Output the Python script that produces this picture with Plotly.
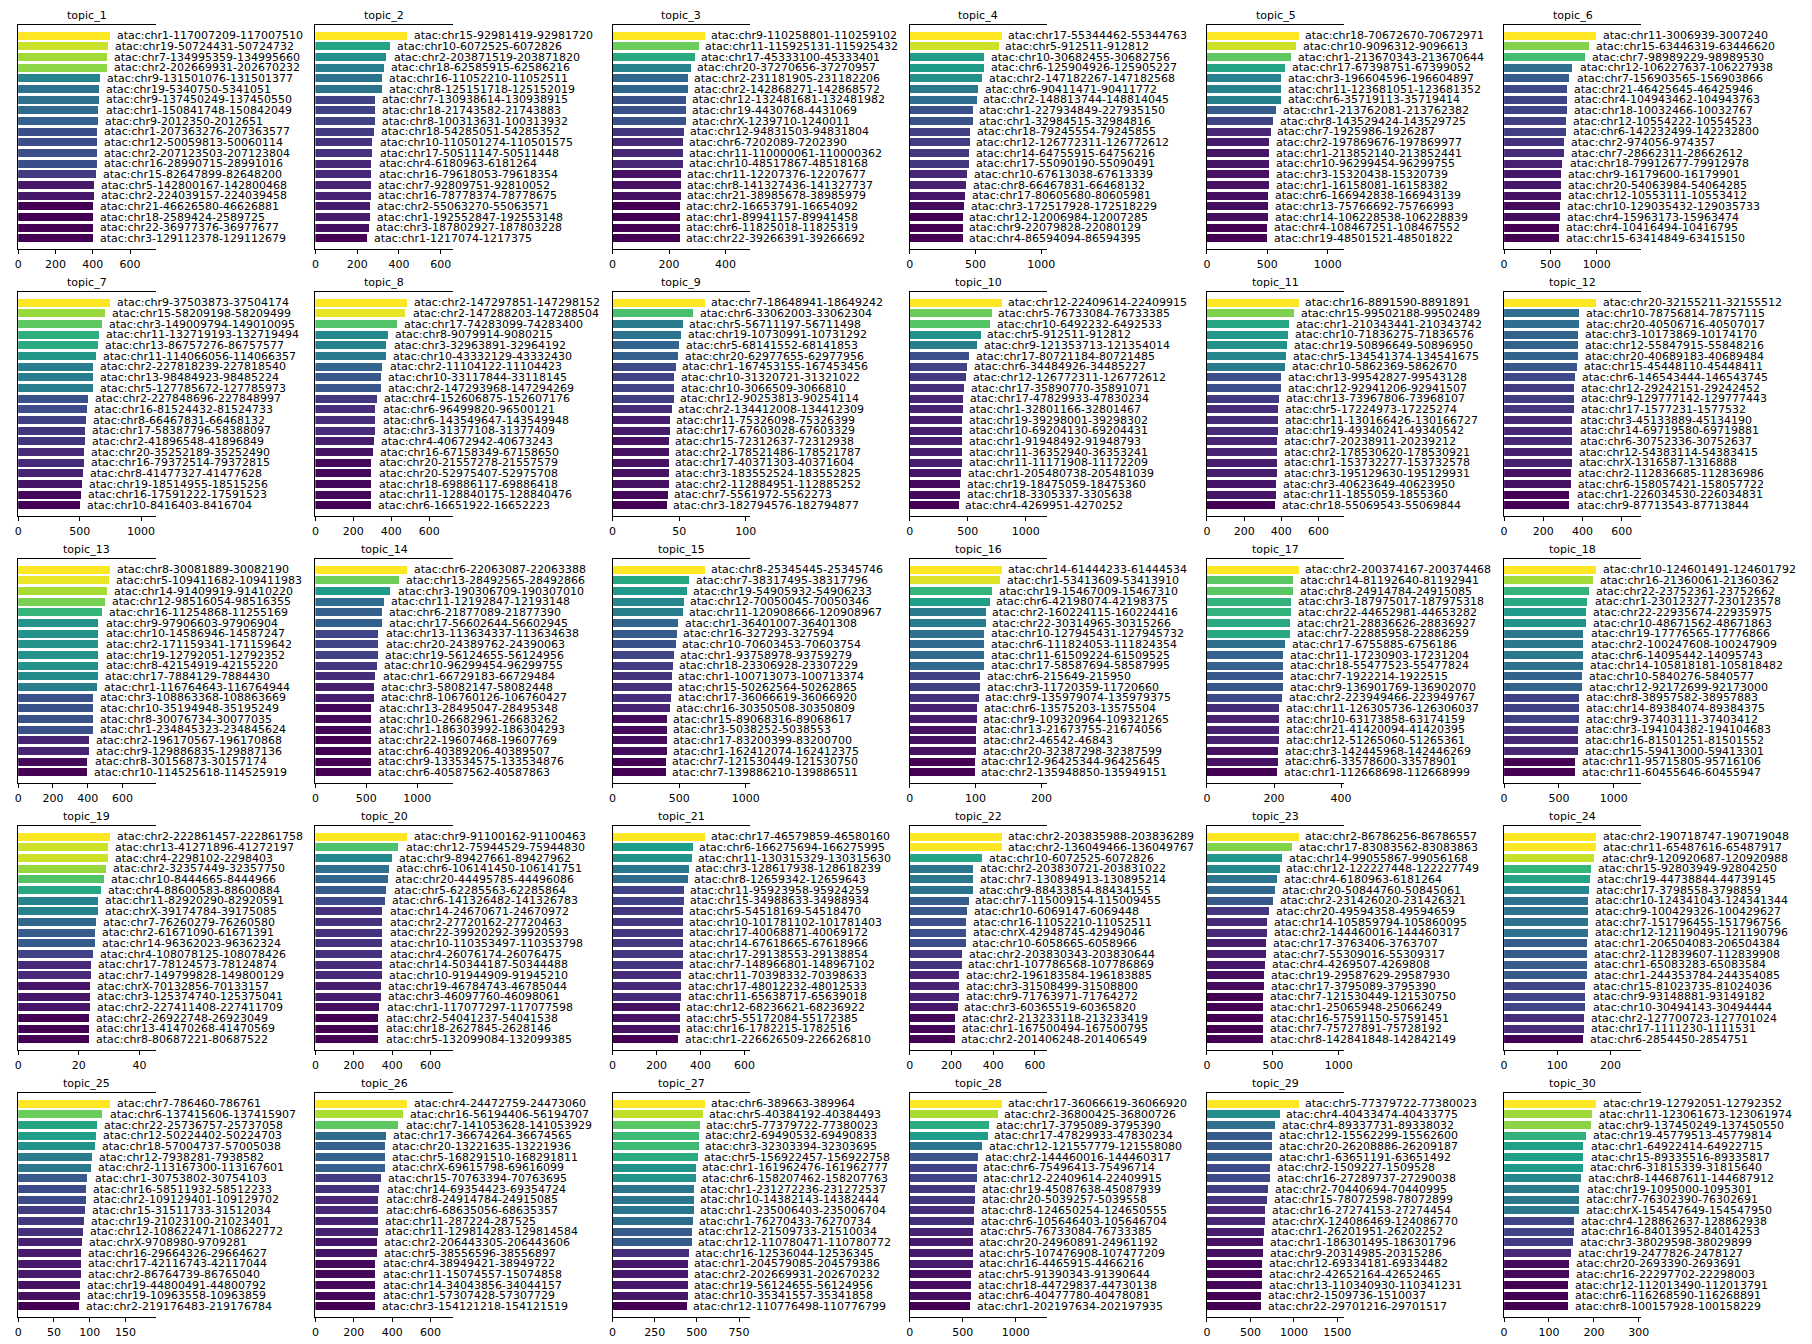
import plotly.graph_objects as go

# ---------------- data ----------------
TITLES = [f"topic_{i}" for i in range(1, 31)]

LABELS = [
 ["atac:chr1-117007209-117007510","atac:chr19-50724431-50724732","atac:chr7-134995359-134995660","atac:chr2-202669931-202670232","atac:chr9-131501076-131501377","atac:chr19-5340750-5341051","atac:chr9-137450249-137450550","atac:chr1-150841748-150842049","atac:chr9-2012350-2012651","atac:chr1-207363276-207363577","atac:chr12-50059813-50060114","atac:chr2-207123503-207123804","atac:chr16-28990715-28991016","atac:chr15-82647899-82648200","atac:chr5-142800167-142800468","atac:chr2-224039157-224039458","atac:chr21-46626580-46626881","atac:chr18-2589424-2589725","atac:chr22-36977376-36977677","atac:chr3-129112378-129112679"],
 ["atac:chr15-92981419-92981720","atac:chr10-6072525-6072826","atac:chr2-203871519-203871820","atac:chr18-62585915-62586216","atac:chr16-11052210-11052511","atac:chr8-125151718-125152019","atac:chr7-130938614-130938915","atac:chr18-21743582-21743883","atac:chr8-100313631-100313932","atac:chr18-54285051-54285352","atac:chr10-110501274-110501575","atac:chr17-50511147-50511448","atac:chr4-6180963-6181264","atac:chr16-79618053-79618354","atac:chr7-92809751-92810052","atac:chr16-78778374-78778675","atac:chr2-55063270-55063571","atac:chr1-192552847-192553148","atac:chr3-187802927-187803228","atac:chr1-1217074-1217375"],
 ["atac:chr9-110258801-110259102","atac:chr11-115925131-115925432","atac:chr17-45333100-45333401","atac:chr20-37270656-37270957","atac:chr2-231181905-231182206","atac:chr2-142868271-142868572","atac:chr12-132481681-132481982","atac:chr19-4430768-4431069","atac:chrX-1239710-1240011","atac:chr12-94831503-94831804","atac:chr6-7202089-7202390","atac:chr11-110000061-110000362","atac:chr10-48517867-48518168","atac:chr11-12207376-12207677","atac:chr8-141327436-141327737","atac:chr21-38985678-38985979","atac:chr2-16653791-16654092","atac:chr1-89941157-89941458","atac:chr6-11825018-11825319","atac:chr22-39266391-39266692"],
 ["atac:chr17-55344462-55344763","atac:chr5-912511-912812","atac:chr10-30682455-30682756","atac:chr6-125904926-125905227","atac:chr2-147182267-147182568","atac:chr6-90411471-90411772","atac:chr2-148813744-148814045","atac:chr1-227934849-227935150","atac:chr1-32984515-32984816","atac:chr18-79245554-79245855","atac:chr12-126772311-126772612","atac:chr14-64755915-64756216","atac:chr17-55090190-55090491","atac:chr10-67613038-67613339","atac:chr8-66467831-66468132","atac:chr17-80605680-80605981","atac:chr3-172517928-172518229","atac:chr12-12006984-12007285","atac:chr9-22079828-22080129","atac:chr4-86594094-86594395"],
 ["atac:chr18-70672670-70672971","atac:chr10-9096312-9096613","atac:chr1-213670343-213670644","atac:chr17-67398751-67399052","atac:chr3-196604596-196604897","atac:chr11-123681051-123681352","atac:chr6-35719113-35719414","atac:chr1-213762081-213762382","atac:chr8-143529424-143529725","atac:chr7-1925986-1926287","atac:chr2-197869676-197869977","atac:chr1-213852140-213852441","atac:chr10-96299454-96299755","atac:chr3-15320438-15320739","atac:chr1-16158081-16158382","atac:chr6-166942838-166943139","atac:chr13-75766692-75766993","atac:chr14-106228538-106228839","atac:chr4-108467251-108467552","atac:chr19-48501521-48501822"],
 ["atac:chr11-3006939-3007240","atac:chr15-63446319-63446620","atac:chr7-98989229-98989530","atac:chr12-106227637-106227938","atac:chr7-156903565-156903866","atac:chr21-46425645-46425946","atac:chr4-104943462-104943763","atac:chr18-10032466-10032767","atac:chr12-10554222-10554523","atac:chr6-142232499-142232800","atac:chr2-974056-974357","atac:chr7-28662311-28662612","atac:chr18-79912677-79912978","atac:chr9-16179600-16179901","atac:chr20-54063984-54064285","atac:chr12-10553111-10553412","atac:chr10-129035432-129035733","atac:chr4-15963173-15963474","atac:chr4-10416494-10416795","atac:chr15-63414849-63415150"],
 ["atac:chr9-37503873-37504174","atac:chr15-58209198-58209499","atac:chr3-149009794-149010095","atac:chr11-132719193-132719494","atac:chr13-86757276-86757577","atac:chr11-114066056-114066357","atac:chr2-227818239-227818540","atac:chr13-98484923-98485224","atac:chr5-127785672-127785973","atac:chr2-227848696-227848997","atac:chr16-81524432-81524733","atac:chr8-66467831-66468132","atac:chr17-58387796-58388097","atac:chr2-41896548-41896849","atac:chr20-35252189-35252490","atac:chr16-79372514-79372815","atac:chr8-41477327-41477628","atac:chr19-18514955-18515256","atac:chr16-17591222-17591523","atac:chr10-8416403-8416704"],
 ["atac:chr2-147297851-147298152","atac:chr2-147288203-147288504","atac:chr17-74283099-74283400","atac:chr8-9079914-9080215","atac:chr3-32963891-32964192","atac:chr10-43332129-43332430","atac:chr2-11104122-11104423","atac:chr10-33117844-33118145","atac:chr2-147293968-147294269","atac:chr4-152606875-152607176","atac:chr6-96499820-96500121","atac:chr6-143549647-143549948","atac:chr3-31377108-31377409","atac:chr4-40672942-40673243","atac:chr16-67158349-67158650","atac:chr20-21557278-21557579","atac:chr20-52975407-52975708","atac:chr18-69886117-69886418","atac:chr11-128840175-128840476","atac:chr6-16651922-16652223"],
 ["atac:chr7-18648941-18649242","atac:chr6-33062003-33062304","atac:chr5-56711197-56711498","atac:chr19-10730991-10731292","atac:chr5-68141552-68141853","atac:chr20-62977655-62977956","atac:chr1-167453155-167453456","atac:chr10-31320721-31321022","atac:chr10-3066509-3066810","atac:chr12-90253813-90254114","atac:chr2-134412008-134412309","atac:chr11-75326098-75326399","atac:chr17-67603028-67603329","atac:chr15-72312637-72312938","atac:chr2-178521486-178521787","atac:chr17-40371303-40371604","atac:chr3-183552524-183552825","atac:chr2-112884951-112885252","atac:chr7-5561972-5562273","atac:chr3-182794576-182794877"],
 ["atac:chr12-22409614-22409915","atac:chr5-76733084-76733385","atac:chr10-6492232-6492533","atac:chr5-912511-912812","atac:chr9-121353713-121354014","atac:chr17-80721184-80721485","atac:chr6-34484926-34485227","atac:chr12-126772311-126772612","atac:chr17-35890770-35891071","atac:chr17-47829933-47830234","atac:chr1-32801166-32801467","atac:chr19-39298001-39298302","atac:chr10-69204130-69204431","atac:chr1-91948492-91948793","atac:chr11-36352940-36353241","atac:chr11-11171908-11172209","atac:chr1-205480738-205481039","atac:chr19-18475059-18475360","atac:chr18-3305337-3305638","atac:chr4-4269951-4270252"],
 ["atac:chr16-8891590-8891891","atac:chr15-99502188-99502489","atac:chr1-210343441-210343742","atac:chr10-71836275-71836576","atac:chr19-50896649-50896950","atac:chr5-134541374-134541675","atac:chr10-5862369-5862670","atac:chr13-99542827-99543128","atac:chr12-92941206-92941507","atac:chr13-73967806-73968107","atac:chr5-17224973-17225274","atac:chr11-130166426-130166727","atac:chr19-49340241-49340542","atac:chr7-20238911-20239212","atac:chr2-178530620-178530921","atac:chr1-153732277-153732578","atac:chr3-195129630-195129931","atac:chr3-40623649-40623950","atac:chr11-1855059-1855360","atac:chr18-55069543-55069844"],
 ["atac:chr20-32155211-32155512","atac:chr10-78756814-78757115","atac:chr20-40506716-40507017","atac:chr3-10173869-10174170","atac:chr12-55847915-55848216","atac:chr20-40689183-40689484","atac:chr15-45448110-45448411","atac:chr6-146543444-146543745","atac:chr12-29242151-29242452","atac:chr9-129777142-129777443","atac:chr17-1577231-1577532","atac:chr3-45133889-45134190","atac:chr14-69719580-69719881","atac:chr6-30752336-30752637","atac:chr12-54383114-54383415","atac:chrX-1316587-1316888","atac:chr2-112836685-112836986","atac:chr6-158057421-158057722","atac:chr1-226034530-226034831","atac:chr9-87713543-87713844"],
 ["atac:chr8-30081889-30082190","atac:chr5-109411682-109411983","atac:chr14-91409919-91410220","atac:chr12-98516054-98516355","atac:chr16-11254868-11255169","atac:chr9-97906603-97906904","atac:chr10-14586946-14587247","atac:chr2-171159341-171159642","atac:chr19-12792051-12792352","atac:chr8-42154919-42155220","atac:chr17-7884129-7884430","atac:chr1-116764643-116764944","atac:chr3-108863368-108863669","atac:chr10-35194948-35195249","atac:chr8-30076734-30077035","atac:chr1-234845323-234845624","atac:chr2-196170567-196170868","atac:chr9-129886835-129887136","atac:chr8-30156873-30157174","atac:chr10-114525618-114525919"],
 ["atac:chr6-22063087-22063388","atac:chr13-28492565-28492866","atac:chr3-190306709-190307010","atac:chr11-12192847-12193148","atac:chr6-21877089-21877390","atac:chr17-56602644-56602945","atac:chr13-113634337-113634638","atac:chr20-24389762-24390063","atac:chr19-56124655-56124956","atac:chr10-96299454-96299755","atac:chr1-66729183-66729484","atac:chr3-58082147-58082448","atac:chr8-106760126-106760427","atac:chr13-28495047-28495348","atac:chr10-26682961-26683262","atac:chr1-186303992-186304293","atac:chr22-19607468-19607769","atac:chr6-40389206-40389507","atac:chr9-133534575-133534876","atac:chr6-40587562-40587863"],
 ["atac:chr8-25345445-25345746","atac:chr7-38317495-38317796","atac:chr19-54905932-54906233","atac:chr12-70050045-70050346","atac:chr11-120908666-120908967","atac:chr1-36401007-36401308","atac:chr16-327293-327594","atac:chr10-70603453-70603754","atac:chr1-93758978-93759279","atac:chr18-23306928-23307229","atac:chr1-100713073-100713374","atac:chr15-50262564-50262865","atac:chr17-36066619-36066920","atac:chr16-30350508-30350809","atac:chr15-89068316-89068617","atac:chr3-5038252-5038553","atac:chr17-83200399-83200700","atac:chr1-162412074-162412375","atac:chr7-121530449-121530750","atac:chr7-139886210-139886511"],
 ["atac:chr14-61444233-61444534","atac:chr1-53413609-53413910","atac:chr19-15467009-15467310","atac:chr6-42198074-42198375","atac:chr2-160224115-160224416","atac:chr22-30314965-30315266","atac:chr10-127945431-127945732","atac:chr6-111824053-111824354","atac:chr11-61509224-61509525","atac:chr17-58587694-58587995","atac:chr6-215649-215950","atac:chr3-11720359-11720660","atac:chr9-135979074-135979375","atac:chr6-13575203-13575504","atac:chr9-109320964-109321265","atac:chr13-21673755-21674056","atac:chr2-46542-46843","atac:chr20-32387298-32387599","atac:chr12-96425344-96425645","atac:chr2-135948850-135949151"],
 ["atac:chr2-200374167-200374468","atac:chr14-81192640-81192941","atac:chr8-24914784-24915085","atac:chr3-187975017-187975318","atac:chr22-44652981-44653282","atac:chr21-28836626-28836927","atac:chr7-22885958-22886259","atac:chr17-6755885-6756186","atac:chr11-17230903-17231204","atac:chr18-55477523-55477824","atac:chr7-1922214-1922515","atac:chr9-136901769-136902070","atac:chr2-223949466-223949767","atac:chr11-126305736-126306037","atac:chr10-63173858-63174159","atac:chr21-41420094-41420395","atac:chr12-51265060-51265361","atac:chr3-142445968-142446269","atac:chr6-33578600-33578901","atac:chr1-112668698-112668999"],
 ["atac:chr10-124601491-124601792","atac:chr16-21360061-21360362","atac:chr22-23752361-23752662","atac:chr1-230123277-230123578","atac:chr22-22935674-22935975","atac:chr10-48671562-48671863","atac:chr19-17776565-17776866","atac:chr2-100247608-100247909","atac:chr6-14095442-14095743","atac:chr14-105818181-105818482","atac:chr10-5840276-5840577","atac:chr12-92172699-92173000","atac:chr8-38957582-38957883","atac:chr14-89384074-89384375","atac:chr9-37403111-37403412","atac:chr3-194104382-194104683","atac:chr16-81501251-81501552","atac:chr15-59413000-59413301","atac:chr11-95715805-95716106","atac:chr11-60455646-60455947"],
 ["atac:chr2-222861457-222861758","atac:chr13-41271896-41272197","atac:chr4-2298102-2298403","atac:chr2-32357449-32357750","atac:chr10-8444665-8444966","atac:chr4-88600583-88600884","atac:chr11-82920290-82920591","atac:chrX-39174784-39175085","atac:chr7-76260279-76260580","atac:chr2-61671090-61671391","atac:chr14-96362023-96362324","atac:chr4-108078125-108078426","atac:chr17-78124573-78124874","atac:chr7-149799828-149800129","atac:chrX-70132856-70133157","atac:chr3-125374740-125375041","atac:chr2-227411408-227411709","atac:chr2-26922748-26923049","atac:chr13-41470268-41470569","atac:chr8-80687221-80687522"],
 ["atac:chr9-91100162-91100463","atac:chr12-75944529-75944830","atac:chr9-89427661-89427962","atac:chr6-106141450-106141751","atac:chr20-44495785-44496086","atac:chr5-62285563-62285864","atac:chr6-141326482-141326783","atac:chr14-24670671-24670972","atac:chr2-27720162-27720463","atac:chr22-39920292-39920593","atac:chr10-110353497-110353798","atac:chr4-26076174-26076475","atac:chr14-50344187-50344488","atac:chr10-91944909-91945210","atac:chr19-46784743-46785044","atac:chr3-46097760-46098061","atac:chr1-117077297-117077598","atac:chr2-54041237-54041538","atac:chr18-2627845-2628146","atac:chr5-132099084-132099385"],
 ["atac:chr17-46579859-46580160","atac:chr6-166275694-166275995","atac:chr11-130315329-130315630","atac:chr3-128617938-128618239","atac:chr8-12659342-12659643","atac:chr11-95923958-95924259","atac:chr15-34988633-34988934","atac:chr5-54518169-54518470","atac:chr10-101781102-101781403","atac:chr17-40068871-40069172","atac:chr14-67618665-67618966","atac:chr17-29138553-29138854","atac:chr7-148966801-148967102","atac:chr11-70398332-70398633","atac:chr17-48012232-48012533","atac:chr11-65638717-65639018","atac:chr12-68236621-68236922","atac:chr5-55172084-55172385","atac:chr16-1782215-1782516","atac:chr1-226626509-226626810"],
 ["atac:chr2-203835988-203836289","atac:chr2-136049466-136049767","atac:chr10-6072525-6072826","atac:chr2-203830721-203831022","atac:chr7-130894913-130895214","atac:chr9-88433854-88434155","atac:chr7-115009154-115009455","atac:chr10-6069147-6069448","atac:chr16-11052210-11052511","atac:chrX-42948745-42949046","atac:chr10-6058665-6058966","atac:chr2-203830343-203830644","atac:chr1-107786568-107786869","atac:chr2-196183584-196183885","atac:chr3-31508499-31508800","atac:chr9-71763971-71764272","atac:chr3-60365519-60365820","atac:chr2-213233118-213233419","atac:chr1-167500494-167500795","atac:chr2-201406248-201406549"],
 ["atac:chr2-86786256-86786557","atac:chr17-83083562-83083863","atac:chr14-99055867-99056168","atac:chr12-122227448-122227749","atac:chr4-6180963-6181264","atac:chr20-50844760-50845061","atac:chr2-231426020-231426321","atac:chr20-49594358-49594659","atac:chr14-105859794-105860095","atac:chr2-144460016-144460317","atac:chr17-3763406-3763707","atac:chr7-55309016-55309317","atac:chr4-4269507-4269808","atac:chr19-29587629-29587930","atac:chr17-3795089-3795390","atac:chr7-121530449-121530750","atac:chr1-25065948-25066249","atac:chr16-57591150-57591451","atac:chr7-75727891-75728192","atac:chr8-142841848-142842149"],
 ["atac:chr2-190718747-190719048","atac:chr11-65487616-65487917","atac:chr9-120920687-120920988","atac:chr15-92803949-92804250","atac:chr19-44738844-44739145","atac:chr17-3798558-3798859","atac:chr10-124341043-124341344","atac:chr9-100429326-100429627","atac:chr7-151796455-151796756","atac:chr12-121190495-121190796","atac:chr1-206504083-206504384","atac:chr2-112839607-112839908","atac:chr1-65083283-65083584","atac:chr1-244353784-244354085","atac:chr15-81023735-81024036","atac:chr9-93148881-93149182","atac:chr10-30494143-30494444","atac:chr2-127700723-127701024","atac:chr17-1111230-1111531","atac:chr6-2854450-2854751"],
 ["atac:chr7-786460-786761","atac:chr6-137415606-137415907","atac:chr22-25736757-25737058","atac:chr12-50224402-50224703","atac:chr18-57004737-57005038","atac:chr12-7938281-7938582","atac:chr2-113167300-113167601","atac:chr1-30753802-30754103","atac:chr16-58511932-58512233","atac:chr2-109129401-109129702","atac:chr15-31511733-31512034","atac:chr19-21023100-21023401","atac:chr12-108622471-108622772","atac:chrX-9708980-9709281","atac:chr16-29664326-29664627","atac:chr17-42116743-42117044","atac:chr2-86764739-86765040","atac:chr19-44800491-44800792","atac:chr19-10963558-10963859","atac:chr2-219176483-219176784"],
 ["atac:chr4-24472759-24473060","atac:chr16-56194406-56194707","atac:chr7-141053628-141053929","atac:chr17-36674264-36674565","atac:chr20-13221635-13221936","atac:chr5-168291510-168291811","atac:chrX-69615798-69616099","atac:chr15-70763394-70763695","atac:chr14-69354423-69354724","atac:chr8-24914784-24915085","atac:chr6-68635056-68635357","atac:chr11-287224-287525","atac:chr11-129814283-129814584","atac:chr2-206443305-206443606","atac:chr5-38556596-38556897","atac:chr4-38949421-38949722","atac:chr11-15074557-15074858","atac:chr14-34043856-34044157","atac:chr1-57307428-57307729","atac:chr3-154121218-154121519"],
 ["atac:chr6-389663-389964","atac:chr5-40384192-40384493","atac:chr5-77379722-77380023","atac:chr2-69490532-69490833","atac:chr3-32303394-32303695","atac:chr5-156922457-156922758","atac:chr1-161962476-161962777","atac:chr6-158207462-158207763","atac:chr1-231272236-231272537","atac:chr10-14382143-14382444","atac:chr1-235006403-235006704","atac:chr1-76270433-76270734","atac:chr12-21509733-21510034","atac:chr12-110780471-110780772","atac:chr16-12536044-12536345","atac:chr1-204579085-204579386","atac:chr2-202669931-202670232","atac:chr19-56124655-56124956","atac:chr10-35341557-35341858","atac:chr12-110776498-110776799"],
 ["atac:chr17-36066619-36066920","atac:chr2-36800425-36800726","atac:chr17-3795089-3795390","atac:chr17-47829933-47830234","atac:chr12-121557779-121558080","atac:chr2-144460016-144460317","atac:chr6-75496413-75496714","atac:chr12-22409614-22409915","atac:chr19-45087638-45087939","atac:chr20-5039257-5039558","atac:chr8-124650254-124650555","atac:chr6-105646403-105646704","atac:chr5-76733084-76733385","atac:chr20-24960891-24961192","atac:chr5-107476908-107477209","atac:chr16-4465915-4466216","atac:chr5-91390343-91390644","atac:chr18-44729837-44730138","atac:chr6-40477780-40478081","atac:chr1-202197634-202197935"],
 ["atac:chr5-77379722-77380023","atac:chr4-40433474-40433775","atac:chr4-89337731-89338032","atac:chr12-15562299-15562600","atac:chr20-26208886-26209187","atac:chr1-63651191-63651492","atac:chr2-1509227-1509528","atac:chr16-27289737-27290038","atac:chr2-70440694-70440995","atac:chr15-78072598-78072899","atac:chr16-27274153-27274454","atac:chrX-124086469-124086770","atac:chr1-26201951-26202252","atac:chr1-186301495-186301796","atac:chr9-20314985-20315286","atac:chr12-69334181-69334482","atac:chr2-42652164-42652465","atac:chr13-110340930-110341231","atac:chr2-1509736-1510037","atac:chr22-29701216-29701517"],
 ["atac:chr19-12792051-12792352","atac:chr11-123061673-123061974","atac:chr9-137450249-137450550","atac:chr19-45779513-45779814","atac:chr1-64922414-64922715","atac:chr15-89335516-89335817","atac:chr6-31815339-31815640","atac:chr8-144687611-144687912","atac:chr19-1095000-1095301","atac:chr7-76302390-76302691","atac:chrX-154547649-154547950","atac:chr4-128862637-128862938","atac:chr16-84013952-84014253","atac:chr3-38029598-38029899","atac:chr19-2477826-2478127","atac:chr20-2693390-2693691","atac:chr16-22297702-22298003","atac:chr12-112013490-112013791","atac:chr6-116268590-116268891","atac:chr8-100157928-100158229"],
]

VALUES = [
 [491, 484, 478, 475, 441, 434, 434, 431, 428, 422, 422, 422, 422, 416, 406, 406, 400, 400, 400, 400],
 [438, 358, 342, 328, 320, 320, 286, 286, 286, 281, 275, 275, 270, 270, 267, 267, 262, 262, 256, 248],
 [324, 304, 289, 275, 265, 265, 258, 258, 258, 250, 246, 246, 246, 240, 240, 240, 236, 236, 236, 236],
 [696, 674, 564, 564, 551, 520, 507, 476, 476, 458, 454, 449, 449, 432, 427, 419, 410, 401, 401, 401],
 [758, 739, 692, 649, 611, 611, 611, 573, 550, 526, 517, 512, 512, 510, 510, 508, 508, 508, 498, 498],
 [988, 913, 869, 738, 706, 681, 675, 675, 669, 669, 650, 644, 631, 619, 619, 613, 606, 606, 594, 594],
 [745, 708, 684, 656, 651, 632, 608, 608, 608, 566, 561, 552, 542, 542, 533, 533, 528, 519, 509, 505],
 [482, 476, 430, 382, 376, 373, 355, 345, 345, 324, 318, 318, 318, 309, 303, 297, 297, 297, 297, 294],
 [68.7, 60.4, 52.2, 51.3, 49.6, 49.1, 47.0, 46.1, 46.1, 45.7, 43.9, 42.6, 42.6, 41.7, 41.7, 41.7, 41.7, 41.7, 40.9, 40.4],
 [790, 705, 690, 610, 580, 510, 495, 485, 470, 460, 455, 450, 450, 450, 450, 450, 440, 430, 430, 420],
 [492, 467, 440, 433, 430, 424, 418, 396, 396, 387, 381, 381, 381, 378, 378, 375, 375, 372, 372, 365],
 [467, 382, 382, 376, 376, 376, 370, 364, 358, 358, 355, 349, 349, 349, 346, 346, 340, 340, 334, 334],
 [527, 523, 510, 500, 483, 463, 463, 463, 463, 463, 460, 453, 430, 430, 430, 430, 410, 410, 400, 397],
 [898, 819, 740, 672, 655, 655, 621, 621, 616, 605, 593, 576, 576, 554, 554, 554, 548, 548, 548, 548],
 [687, 570, 552, 530, 522, 491, 478, 470, 457, 448, 439, 439, 435, 426, 404, 404, 404, 404, 396, 396],
 [139, 137, 125, 121, 115, 115, 113, 112, 112, 112, 106, 106, 104, 102, 101, 100, 100, 100, 98, 98],
 [273, 256, 256, 250, 250, 247, 247, 232, 228, 228, 226, 226, 223, 216, 214, 214, 214, 211, 211, 208],
 [836, 810, 772, 762, 751, 746, 725, 725, 725, 720, 709, 709, 688, 688, 688, 677, 672, 672, 651, 651],
 [30.2, 29.7, 29.7, 29.1, 28.3, 27.4, 26.4, 26.4, 25.6, 25.3, 25.3, 24.7, 24.1, 24.1, 23.7, 23.7, 23.7, 23.3, 23.3, 23.3],
 [477, 435, 399, 384, 378, 372, 363, 351, 351, 351, 351, 351, 348, 348, 342, 342, 336, 330, 330, 330],
 [416, 363, 358, 345, 339, 321, 321, 316, 316, 316, 316, 316, 316, 311, 311, 311, 303, 303, 303, 297],
 [439, 439, 347, 303, 303, 300, 281, 275, 269, 269, 267, 250, 247, 236, 236, 236, 228, 217, 217, 214],
 [694, 642, 568, 550, 528, 515, 498, 467, 454, 454, 445, 445, 441, 432, 432, 424, 424, 424, 424, 424],
 [172, 172, 170, 164, 162, 159, 157, 157, 157, 157, 155, 155, 155, 155, 153, 153, 153, 151, 151, 148],
 [128, 118, 110, 109, 107, 103, 102, 97, 95, 95, 93, 92, 91, 89, 88, 88, 88, 87, 87, 85],
 [477, 456, 435, 369, 363, 363, 363, 342, 336, 330, 330, 327, 327, 321, 321, 315, 315, 315, 315, 312],
 [543, 533, 515, 509, 509, 502, 491, 491, 478, 478, 478, 474, 467, 467, 450, 443, 443, 443, 443, 436],
 [863, 825, 749, 732, 683, 645, 628, 628, 617, 617, 607, 607, 596, 590, 590, 590, 579, 579, 579, 568],
 [1053, 834, 781, 748, 748, 748, 722, 722, 702, 689, 669, 669, 656, 642, 642, 629, 629, 629, 623, 623],
 [204, 195, 193, 182, 177, 177, 176, 171, 168, 167, 167, 155, 155, 153, 149, 144, 144, 142, 142, 142],
]

TICKS = [
 [0, 200, 400, 600], [0, 200, 400, 600], [0, 200, 400], [0, 500, 1000], [0, 500, 1000], [0, 500, 1000, 1500],
 [0, 500, 1000], [0, 200, 400, 600], [0, 50, 100], [0, 500, 1000], [0, 200, 400, 600], [0, 200, 400, 600],
 [0, 200, 400, 600], [0, 500, 1000], [0, 500, 1000], [0, 100, 200], [0, 200, 400], [0, 500, 1000],
 [0, 20, 40], [0, 200, 400, 600], [0, 200, 400, 600], [0, 200, 400, 600], [0, 500, 1000], [0, 100, 200],
 [0, 50, 100, 150], [0, 200, 400, 600], [0, 250, 500, 750], [0, 500, 1000], [0, 500, 1000, 1500], [0, 100, 200, 300],
]

# ---------------- layout ----------------
W, H = 1812, 1344
FONT = "DejaVu Sans"
COL_LEFT = [14.3 + 299.5 * c for c in range(6)]
ROW_TOP = [25.3 + 267 * r for r in range(5)]
PW, PH = 138.4, 224.0

fig = go.Figure()
annotations = []
layout_axes = {}

for k in range(30):
    r, c = divmod(k, 6)
    idx = k + 1
    xa = "x" if idx == 1 else f"x{idx}"
    ya = "y" if idx == 1 else f"y{idx}"
    vals = VALUES[k]
    labs = LABELS[k]
    ys = list(range(len(vals)))

    fig.add_trace(go.Bar(
        x=vals, y=ys, orientation="h", xaxis=xa, yaxis=ya,
        marker=dict(color=vals, colorscale="Viridis", cmin=min(vals), cmax=max(vals), line=dict(width=0)),
        width=0.75, hoverinfo="skip", showlegend=False,
    ))

    x0 = COL_LEFT[c] / W
    x1 = (COL_LEFT[c] + PW) / W
    y1 = 1 - ROW_TOP[r] / H
    y0 = 1 - (ROW_TOP[r] + PH) / H

    layout_axes["xaxis" if idx == 1 else f"xaxis{idx}"] = dict(
        domain=[x0, x1], anchor=ya, range=[0, 1.5 * max(vals)],
        tickvals=TICKS[k], ticktext=[str(t) for t in TICKS[k]],
        showgrid=False, zeroline=False, showline=True, mirror=True,
        linecolor="black", linewidth=1, ticks="outside", ticklen=4, tickwidth=1,
        tickcolor="black", tickfont=dict(family=FONT, size=11, color="black"),
        fixedrange=True,
    )
    layout_axes["yaxis" if idx == 1 else f"yaxis{idx}"] = dict(
        domain=[y0, y1], anchor=xa, range=[len(vals), -1],
        showgrid=False, zeroline=False, showline=True, mirror=False,
        linecolor="black", linewidth=1, ticks="", showticklabels=False,
        fixedrange=True,
    )

    for v, yv, lab in zip(vals, ys, labs):
        annotations.append(dict(
            x=v, y=yv, xref=xa, yref=ya, text=lab, showarrow=False,
            xanchor="left", yanchor="middle", xshift=5,
            font=dict(family=FONT, size=11, color="black"),
        ))

    annotations.append(dict(
        x=(x0 + x1) / 2, y=y1, xref="paper", yref="paper", text=TITLES[k],
        showarrow=False, xanchor="center", yanchor="middle", yshift=10,
        font=dict(family=FONT, size=11, color="black"),
    ))

fig.update_layout(
    width=W, height=H, margin=dict(l=0, r=0, t=0, b=0),
    paper_bgcolor="white", plot_bgcolor="white",
    font=dict(family=FONT, size=11, color="black"),
    bargap=0, annotations=annotations, **layout_axes,
)

fig.write_html("out.html")
